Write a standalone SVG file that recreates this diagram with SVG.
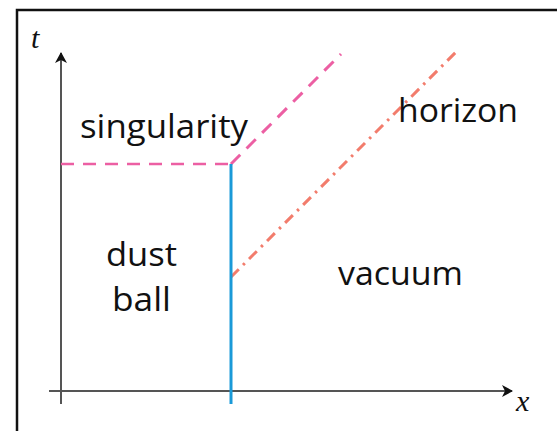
<svg xmlns="http://www.w3.org/2000/svg" width="557" height="431" viewBox="0 0 557 431">
<style>
.lbl{font-family:"Open Sans","Noto Sans","DejaVu Sans",sans-serif;font-size:32px;fill:#111}
.math{font-family:"Liberation Serif","DejaVu Serif",serif;font-style:italic;font-size:30px;fill:#111}
.axis{stroke:#555;stroke-width:2;fill:none}
</style>
<defs>
<marker id="arr" markerWidth="12" markerHeight="12" refX="10" refY="6" orient="auto" markerUnits="userSpaceOnUse">
<path d="M0,0 L11,6 L0,12 L3,6 Z" fill="#111"/>
</marker>
</defs>
<rect x="0" y="0" width="557" height="431" fill="#fff"/>
<rect id="frame" x="17" y="10" width="560" height="440" fill="none" stroke="#111" stroke-width="2.5"/>
<g id="connectors">
<line class="axis" x1="61" y1="404" x2="61" y2="53" marker-end="url(#arr)"/>
<line class="axis" x1="49" y1="391" x2="512" y2="391" marker-end="url(#arr)"/>
<line x1="61" y1="164" x2="231" y2="164" stroke="#ec5fa3" stroke-width="2.5" stroke-dasharray="13,9"/>
<line x1="231" y1="164" x2="341" y2="54" stroke="#ec5fa3" stroke-width="3" stroke-dasharray="13,9"/>
<line x1="231" y1="277" x2="457" y2="51" stroke="#f27c6c" stroke-width="3" stroke-dasharray="11,6,2.5,6"/>
<line x1="231" y1="164" x2="231" y2="404" stroke="#1a9ad8" stroke-width="3"/>
</g>
<g id="axis-t"><text class="math" x="31" y="48">t</text></g>
<g id="axis-x"><text class="math" x="516" y="411">x</text></g>
<g id="singularity"><text class="lbl" x="80" y="138" textLength="168" lengthAdjust="spacingAndGlyphs">singularity</text></g>
<g id="horizon"><text class="lbl" x="398" y="122" textLength="120" lengthAdjust="spacingAndGlyphs">horizon</text></g>
<g id="dust-ball"><text class="lbl" x="106" y="266" textLength="71" lengthAdjust="spacingAndGlyphs">dust</text><text class="lbl" x="112" y="311" textLength="59" lengthAdjust="spacingAndGlyphs">ball</text></g>
<g id="vacuum"><text class="lbl" x="338" y="285" textLength="125" lengthAdjust="spacingAndGlyphs">vacuum</text></g>
</svg>
